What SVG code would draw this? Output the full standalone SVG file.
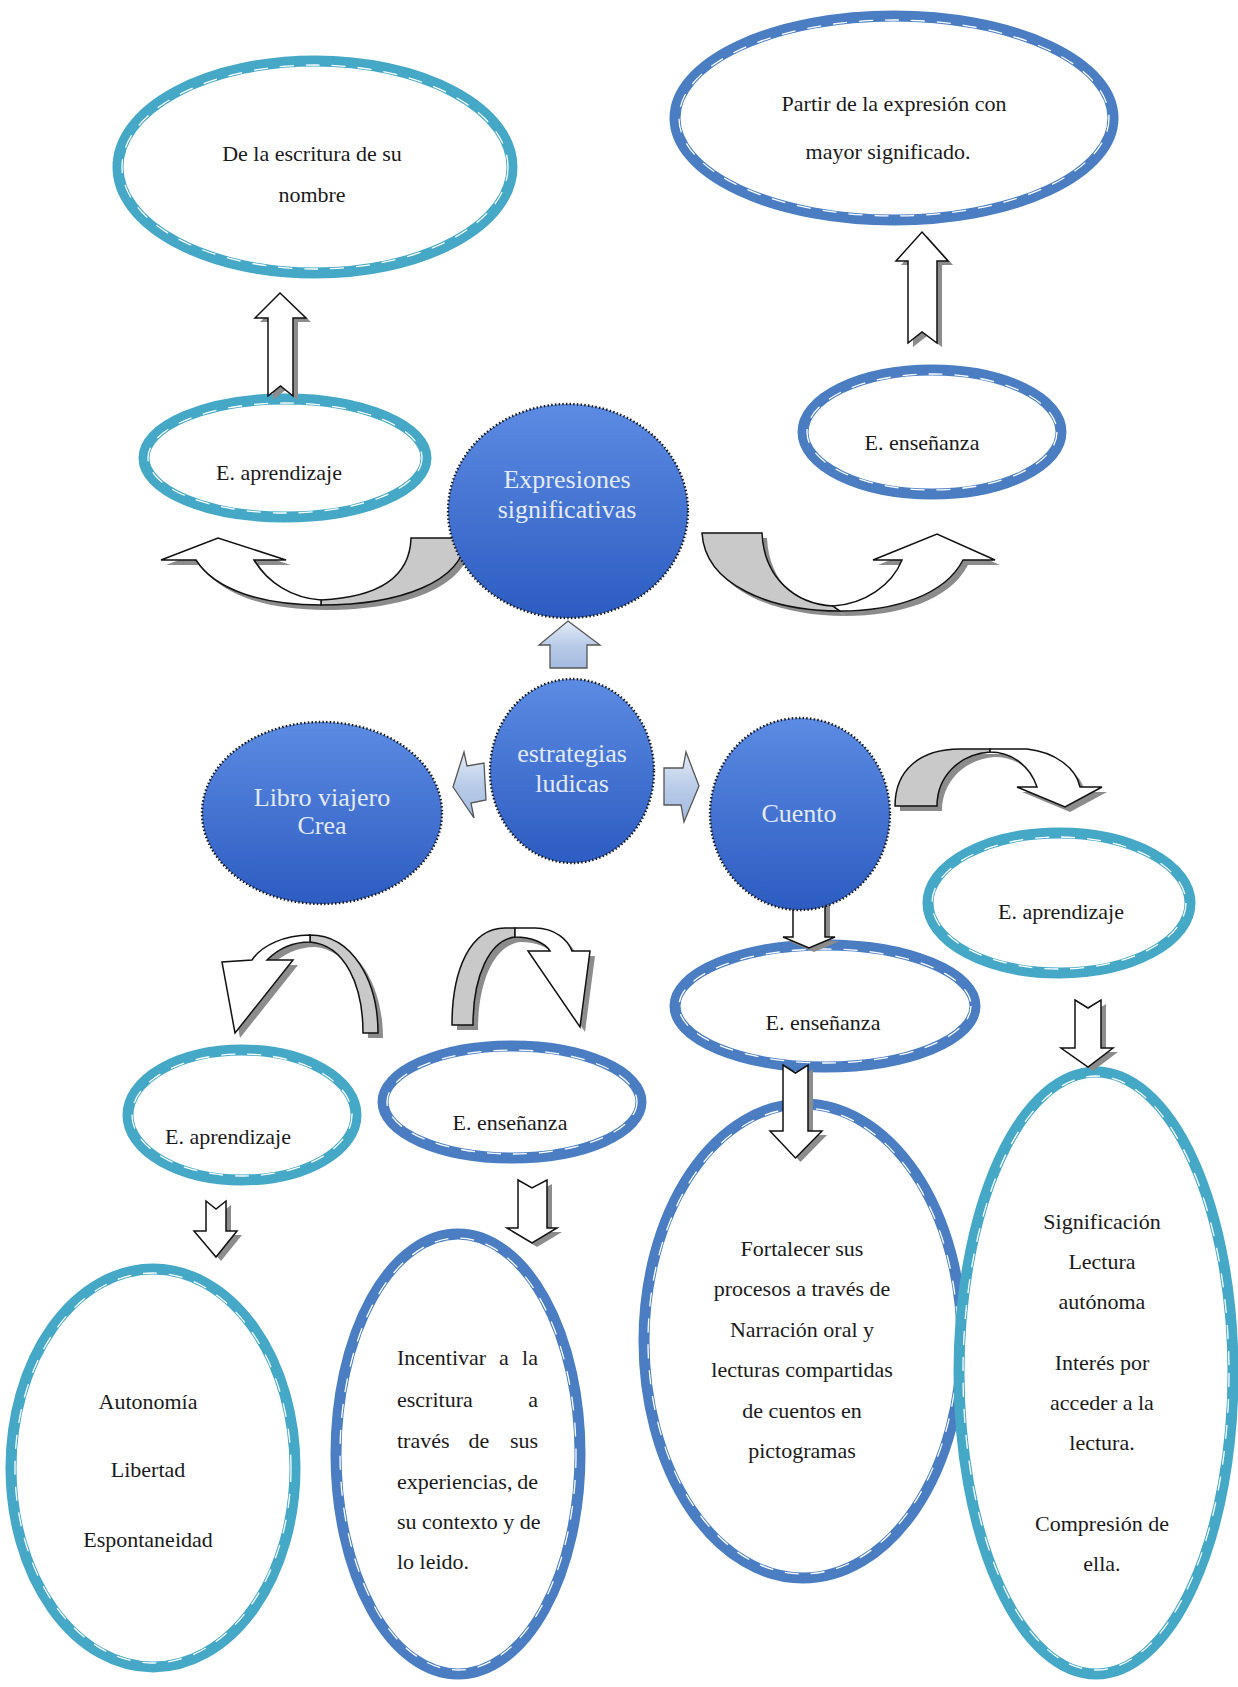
<svg xmlns="http://www.w3.org/2000/svg" width="1238" height="1687" viewBox="0 0 1238 1687">
<defs>
<linearGradient id="blue" x1="0" y1="0" x2="0" y2="1">
<stop offset="0" stop-color="#5b8be2"/>
<stop offset="1" stop-color="#2d5cc2"/>
</linearGradient>
<linearGradient id="lbg" x1="0" y1="0" x2="0" y2="1">
<stop offset="0" stop-color="#e4ecf8"/>
<stop offset="0.5" stop-color="#b9cce8"/>
<stop offset="1" stop-color="#a3bbe0"/>
</linearGradient>
<style>
.teal{fill:#fff;stroke:#45a8c6;stroke-width:11}
.navy{fill:#fff;stroke:#4a7dc2;stroke-width:11}
.dash{fill:none;stroke:#fff;stroke-width:1.3;stroke-dasharray:14 12}
.circ{fill:url(#blue);stroke:#1a1a1a;stroke-width:2.4;stroke-dasharray:1.5 2.2}
.t{font-family:"Liberation Serif","Times New Roman",serif;font-size:22px;fill:#1a1a1a;text-anchor:middle}
.ts{font-family:"Liberation Serif","Times New Roman",serif;font-size:22px;fill:#1a1a1a}
.te{font-family:"Liberation Serif","Times New Roman",serif;font-size:22px;fill:#1a1a1a;text-anchor:end}
.w{font-family:"Liberation Serif","Times New Roman",serif;font-size:26px;fill:#e3eaf6;text-anchor:middle}
.blk{fill:#fff;stroke:#111;stroke-width:1.5;stroke-linejoin:miter}
.gry{fill:#c9c9c9;stroke:#111;stroke-width:1.5}
.shd{fill:#8c8c8c;stroke:none}
.lb{fill:url(#lbg);stroke:#555;stroke-width:1.3}
</style>
</defs>
<rect width="1238" height="1687" fill="#fff"/>

<g id="n-escritura-nombre">
<ellipse class="teal" cx="315" cy="167" rx="197" ry="106"/>
<ellipse class="dash" cx="315" cy="167" rx="193" ry="102"/>
<text class="t" x="312" y="161">De la escritura de su</text>
<text class="t" x="312" y="202">nombre</text>
</g>
<g id="n-partir">
<ellipse class="navy" cx="894" cy="118" rx="219" ry="102"/>
<ellipse class="dash" cx="894" cy="118" rx="215" ry="98"/>
<text class="t" x="894" y="111">Partir de la expresión con</text>
<text class="t" x="888" y="159">mayor  significado.</text>
</g>
<g id="n-aprendizaje-top">
<ellipse class="teal" cx="285" cy="458" rx="141" ry="59"/>
<ellipse class="dash" cx="285" cy="458" rx="137" ry="55"/>
<text class="t" x="279" y="480">E. aprendizaje</text>
</g>
<g id="n-ensenanza-top">
<ellipse class="navy" cx="932" cy="432" rx="129" ry="62"/>
<ellipse class="dash" cx="932" cy="432" rx="125" ry="58"/>
<text class="t" x="922" y="450">E. enseñanza</text>
</g>
<g id="n-aprendizaje-right">
<ellipse class="teal" cx="1059" cy="903" rx="131" ry="70"/>
<ellipse class="dash" cx="1059" cy="903" rx="127" ry="66"/>
<text class="t" x="1061" y="919">E. aprendizaje</text>
</g>
<g id="n-ensenanza-mid">
<ellipse class="navy" cx="825" cy="1006" rx="150" ry="61"/>
<ellipse class="dash" cx="825" cy="1006" rx="146" ry="57"/>
<text class="t" x="823" y="1030">E. enseñanza</text>
</g>
<g id="n-aprendizaje-bl">
<ellipse class="teal" cx="242" cy="1115" rx="114" ry="65"/>
<ellipse class="dash" cx="242" cy="1115" rx="110" ry="61"/>
<text class="t" x="228" y="1144">E. aprendizaje</text>
</g>
<g id="n-ensenanza-bm">
<ellipse class="navy" cx="512" cy="1102" rx="129" ry="56"/>
<ellipse class="dash" cx="512" cy="1102" rx="125" ry="52"/>
<text class="t" x="510" y="1130">E. enseñanza</text>
</g>
<g id="n-autonomia">
<ellipse class="teal" cx="153" cy="1468" rx="142" ry="199"/>
<ellipse class="dash" cx="153" cy="1468" rx="138" ry="195"/>
<text class="t" x="148" y="1409">Autonomía</text>
<text class="t" x="148" y="1477">Libertad</text>
<text class="t" x="148" y="1547">Espontaneidad</text>
</g>
<g id="n-incentivar">
<ellipse class="navy" cx="458" cy="1454" rx="122" ry="220"/>
<ellipse class="dash" cx="458" cy="1454" rx="118" ry="216"/>
<text class="ts" x="397" y="1365">Incentivar</text>
<text class="t" x="504" y="1365">a</text>
<text class="te" x="538" y="1365">la</text>
<text class="ts" x="397" y="1407">escritura</text>
<text class="te" x="538" y="1407">a</text>
<text class="ts" x="397" y="1448">través</text>
<text class="t" x="479" y="1448">de</text>
<text class="te" x="538" y="1448">sus</text>
<text class="ts" x="397" y="1489">experiencias,</text>
<text class="te" x="538" y="1489">de</text>
<text class="ts" x="397" y="1529">su contexto y de</text>
<text class="ts" x="397" y="1569">lo leido.</text>
</g>
<g id="n-fortalecer">
<ellipse class="navy" cx="803" cy="1341" rx="159" ry="237"/>
<ellipse class="dash" cx="803" cy="1341" rx="155" ry="233"/>
<text class="t" x="802" y="1256">Fortalecer sus</text>
<text class="t" x="802" y="1296">procesos a través de</text>
<text class="t" x="802" y="1337">Narración oral y</text>
<text class="t" x="802" y="1377">lecturas compartidas</text>
<text class="t" x="802" y="1418">de cuentos en</text>
<text class="t" x="802" y="1458">pictogramas</text>
</g>
<g id="n-significacion">
<ellipse class="teal" cx="1096" cy="1373" rx="137" ry="301"/>
<ellipse class="dash" cx="1096" cy="1373" rx="133" ry="297"/>
<text class="t" x="1102" y="1229">Significación</text>
<text class="t" x="1102" y="1269">Lectura</text>
<text class="t" x="1102" y="1309">autónoma</text>
<text class="t" x="1102" y="1370">Interés por</text>
<text class="t" x="1102" y="1410">acceder a la</text>
<text class="t" x="1102" y="1450">lectura.</text>
<text class="t" x="1102" y="1531">Compresión de</text>
<text class="t" x="1102" y="1571">ella.</text>
</g>

<g id="connectors">
<path class="shd" transform="translate(5,4)" d="M280,293 L306,318 L293,318 L293,396 L280.5,386 L268,396 L268,318 L255,318 Z"/>
<path class="blk" d="M280,293 L306,318 L293,318 L293,396 L280.5,386 L268,396 L268,318 L255,318 Z"/>
<path class="shd" transform="translate(5,4)" d="M922,232 L948,261 L937,261 L937,343 L922,332 L908,343 L908,261 L896,261 Z"/>
<path class="blk" d="M922,232 L948,261 L937,261 L937,343 L922,332 L908,343 L908,261 L896,261 Z"/>
<path class="shd" transform="translate(5,4)" d="M793,900 L825,900 L825,937 L835,937 L809,948 L783,937 L793,937 Z"/>
<path class="blk" d="M793,900 L825,900 L825,937 L835,937 L809,948 L783,937 L793,937 Z"/>
<path class="shd" transform="translate(5,4)" d="M783,1065 L795.5,1073 L808,1065 L808,1131 L822,1131 L795.5,1158 L770,1131 L783,1131 Z"/>
<path class="blk" d="M783,1065 L795.5,1073 L808,1065 L808,1131 L822,1131 L795.5,1158 L770,1131 L783,1131 Z"/>
<path class="shd" transform="translate(5,4)" d="M1075,1000 L1088,1008 L1101,1000 L1101,1048 L1113,1048 L1088,1067 L1061,1048 L1075,1048 Z"/>
<path class="blk" d="M1075,1000 L1088,1008 L1101,1000 L1101,1048 L1113,1048 L1088,1067 L1061,1048 L1075,1048 Z"/>
<path class="shd" transform="translate(5,4)" d="M206,1201 L216,1209 L226,1201 L226,1231 L237,1231 L216,1257 L194,1231 L206,1231 Z"/>
<path class="blk" d="M206,1201 L216,1209 L226,1201 L226,1231 L237,1231 L216,1257 L194,1231 L206,1231 Z"/>
<path class="shd" transform="translate(5,4)" d="M518,1180 L532,1188 L547,1180 L547,1228 L557,1228 L532,1243 L507,1228 L518,1228 Z"/>
<path class="blk" d="M518,1180 L532,1188 L547,1180 L547,1228 L557,1228 L532,1243 L507,1228 L518,1228 Z"/>
<g transform="translate(5,5)">
<path class="shd" d="M411,538 L466,538 C463,582 400,605 321,605 L321,600 C382,597 410,575 411,538 Z"/>
<path class="shd" d="M321,605 C262,605 215,590 196,560 L161,560 L218,538 L286,560 L254,560 C268,583 292,598 321,600 Z"/>
</g>
<path class="gry" d="M411,538 L466,538 C463,582 400,605 321,605 L321,600 C382,597 410,575 411,538 Z"/>
<path class="blk" d="M321,605 C262,605 215,590 196,560 L161,560 L218,538 L286,560 L254,560 C268,583 292,598 321,600 Z"/>
<g transform="translate(5,5)">
<path class="shd" d="M702,533 L762,533 C764,578 795,604 833,606 L840,611 C770,611 705,585 702,533 Z"/>
<path class="shd" d="M833,606 C865,604 892,585 902,560 L873,560 L937,534 L995,560 L963,560 C945,595 895,611 840,611 Z"/>
</g>
<path class="gry" d="M702,533 L762,533 C764,578 795,604 833,606 L840,611 C770,611 705,585 702,533 Z"/>
<path class="blk" d="M833,606 C865,604 892,585 902,560 L873,560 L937,534 L995,560 L963,560 C945,595 895,611 840,611 Z"/>
<g transform="translate(5,5)">
<path class="shd" d="M895,806 C895,770 920,749 960,749 L990,749 L990,752 C960,754 937,776 937,806 Z"/>
<path class="shd" d="M990,749 L1027,749 C1055,752 1076,768 1080,787 L1102,787 L1065,807 L1017,787 L1037,787 C1030,766 1012,752 990,752 Z"/>
</g>
<path class="gry" d="M895,806 C895,770 920,749 960,749 L990,749 L990,752 C960,754 937,776 937,806 Z"/>
<path class="blk" d="M990,749 L1027,749 C1055,752 1076,768 1080,787 L1102,787 L1065,807 L1017,787 L1037,787 C1030,766 1012,752 990,752 Z"/>
<g transform="translate(5,5)">
<path class="shd" d="M378,1033 C378,980 352,935 310,935 L310,942 C345,945 363,985 363,1033 Z"/>
<path class="shd" d="M310,935 C285,935 262,945 252,960 L222,962 L235,1033 L293,960 L267,960 C277,950 292,942 310,942 Z"/>
</g>
<path class="gry" d="M378,1033 C378,980 352,935 310,935 L310,942 C345,945 363,985 363,1033 Z"/>
<path class="blk" d="M310,935 C285,935 262,945 252,960 L222,962 L235,1033 L293,960 L267,960 C277,950 292,942 310,942 Z"/>
<g transform="translate(5,5)">
<path class="shd" d="M452,1025 C452,970 470,928 505,928 L515,928 L515,937 C490,940 473,975 473,1025 Z"/>
<path class="shd" d="M515,928 L535,928 C555,928 568,940 572,951 L590,951 L580,1027 L528,951 L550,951 C545,943 532,937 515,937 Z"/>
</g>
<path class="gry" d="M452,1025 C452,970 470,928 505,928 L515,928 L515,937 C490,940 473,975 473,1025 Z"/>
<path class="blk" d="M515,928 L535,928 C555,928 568,940 572,951 L590,951 L580,1027 L528,951 L550,951 C545,943 532,937 515,937 Z"/>
<path class="lb" d="M568,621 L600,645 L587,645 L587,668 L550,668 L550,645 L539,645 Z"/>
<path class="lb" d="M453,787 L464,752 L467,766 L484,763 L486,800 L471,803 L474,818 Z"/>
<path class="lb" d="M699,786 L686,752 L683,768 L664,768 L664,805 L681,805 L684,822 Z"/>
</g>

<g id="n-expresiones">
<ellipse class="circ" cx="568" cy="511" rx="120" ry="107"/>
<text class="w" x="567" y="488">Expresiones</text>
<text class="w" x="567" y="518">significativas</text>
</g>
<g id="n-estrategias">
<ellipse class="circ" cx="572" cy="771" rx="82" ry="92"/>
<text class="w" x="572" y="762">estrategias</text>
<text class="w" x="572" y="792">ludicas</text>
</g>
<g id="n-libro">
<ellipse class="circ" cx="322" cy="813" rx="120" ry="91"/>
<text class="w" x="322" y="806">Libro viajero</text>
<text class="w" x="322" y="834">Crea</text>
</g>
<g id="n-cuento">
<ellipse class="circ" cx="800" cy="814" rx="90" ry="96"/>
<text class="w" x="799" y="822">Cuento</text>
</g>
</svg>
